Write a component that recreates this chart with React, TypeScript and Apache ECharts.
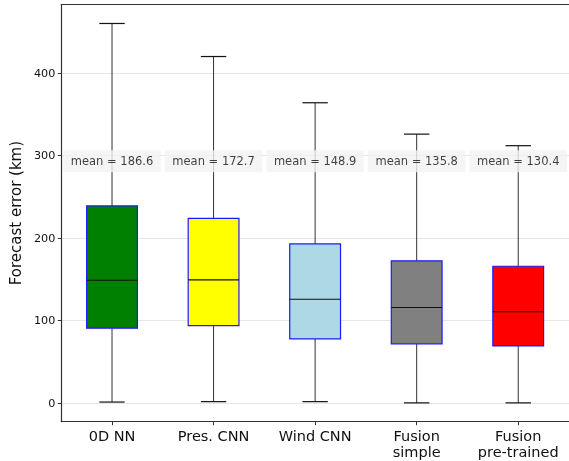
import React, { useEffect, useRef } from "react";
import * as echarts from "echarts";

const CATEGORIES = ["0D NN", "Pres. CNN", "Wind CNN", "Fusion\nsimple", "Fusion\npre-trained"];
const WHISKER_LOW = [1.5, 2, 2, 0.5, 0.5];
const Q1 = [91, 94, 78, 72, 69.5];
const MEDIAN = [149, 149.5, 126, 116, 111];
const Q3 = [239, 224, 193, 172.5, 166];
const WHISKER_HIGH = [460, 420, 364, 326, 312];
const MEANS = [186.6, 172.7, 148.9, 135.8, 130.4];
const MEAN_LABEL_Y = 293;
const Y_TICKS = [0, 100, 200, 300, 400];

const BOX_COLORS = ["#008000", "#ffff00", "#add8e6", "#808080", "#ff0000"];
const FONT = "DejaVu Sans";

export default function App() {
  const ref = useRef<HTMLDivElement>(null);
  useEffect(() => {
    if (!ref.current) return;
    const chart = echarts.init(ref.current, null, { renderer: "svg" });
    const boxData = CATEGORIES.map((_, i) => [i, WHISKER_LOW[i], Q1[i], MEDIAN[i], Q3[i], WHISKER_HIGH[i]]);
    const meanData = CATEGORIES.map((_, i) => [i, MEAN_LABEL_Y]);
    chart.setOption({
      animation: false,
      grid: { left: 57.5, right: -2.5, top: 4.5, bottom: 39.3 },
      xAxis: [
        {
          type: "category",
          data: CATEGORIES,
          axisLine: { show: true, onZero: false, lineStyle: { color: "#333", width: 1.2 } },
          axisTick: { show: true, alignWithLabel: true, length: 3.5, lineStyle: { color: "#333" } },
          axisLabel: { fontFamily: FONT, fontSize: 14.5, color: "#111", margin: 6, lineHeight: 16, interval: 0 },
          splitLine: { show: false },
        },
        {
          type: "category",
          data: CATEGORIES,
          position: "top",
          axisLine: { show: true, onZero: false, lineStyle: { color: "#333", width: 1.2 } },
          axisTick: { show: false },
          axisLabel: { show: false },
        },
      ],
      yAxis: {
        type: "value",
        min: -22.3,
        max: 483,
        name: "Forecast error (km)",
        nameLocation: "middle",
        nameGap: 33,
        nameTextStyle: { fontFamily: FONT, fontSize: 15, color: "#111" },
        axisLine: { show: true, lineStyle: { color: "#333", width: 1.2 } },
        axisTick: { show: true, length: 3.5, lineStyle: { color: "#333" }, customValues: Y_TICKS },
        axisLabel: { fontFamily: FONT, fontSize: 11.2, color: "#111", margin: 6, customValues: Y_TICKS },
        splitLine: { show: true, lineStyle: { color: "#e6e6e6", width: 1 } },
      },
      series: [
        {
          type: "custom",
          xAxisIndex: 0,
          z: 2,
          data: boxData,
          renderItem: (params: any, api: any) => {
            const i = api.value(0);
            const lo = api.coord([i, api.value(1)]);
            const q1 = api.coord([i, api.value(2)]);
            const med = api.coord([i, api.value(3)]);
            const q3 = api.coord([i, api.value(4)]);
            const hi = api.coord([i, api.value(5)]);
            const bw = api.size([1, 0])[0];
            const boxW = bw * 0.5;
            const capW = bw * 0.25;
            const x = lo[0];
            const whisk = { stroke: "#333", lineWidth: 1 };
            return {
              type: "group",
              children: [
                { type: "line", shape: { x1: x, y1: hi[1], x2: x, y2: q3[1] }, style: whisk },
                { type: "line", shape: { x1: x, y1: q1[1], x2: x, y2: lo[1] }, style: whisk },
                { type: "line", shape: { x1: x - capW / 2, y1: hi[1], x2: x + capW / 2, y2: hi[1] }, style: { stroke: "#111", lineWidth: 1.2 } },
                { type: "line", shape: { x1: x - capW / 2, y1: lo[1], x2: x + capW / 2, y2: lo[1] }, style: { stroke: "#111", lineWidth: 1.2 } },
                {
                  type: "rect",
                  shape: { x: x - boxW / 2, y: q3[1], width: boxW, height: q1[1] - q3[1] },
                  style: { fill: BOX_COLORS[params.dataIndex], stroke: "#1a1aff", lineWidth: 1.2 },
                },
                { type: "line", shape: { x1: x - boxW / 2, y1: med[1], x2: x + boxW / 2, y2: med[1] }, style: { stroke: "#111", lineWidth: 1.2 } },
              ],
            };
          },
        },
        {
          type: "scatter",
          xAxisIndex: 0,
          z: 5,
          data: meanData,
          symbolSize: 1,
          itemStyle: { color: "transparent" },
          label: {
            show: true,
            position: "inside",
            formatter: (p: any) => `mean = ${MEANS[p.dataIndex].toFixed(1)}`,
            fontFamily: FONT,
            fontSize: 11.5,
            lineHeight: 13,
            color: "#111",
            backgroundColor: "#f2f2f2",
            padding: [5, 7.5, 4, 7.5],
          },
        },
      ],
    });
    return () => chart.dispose();
  }, []);
  return <div ref={ref} style={{ position: "fixed", left: 0, top: 0, width: 569, height: 461 }} />;
}
